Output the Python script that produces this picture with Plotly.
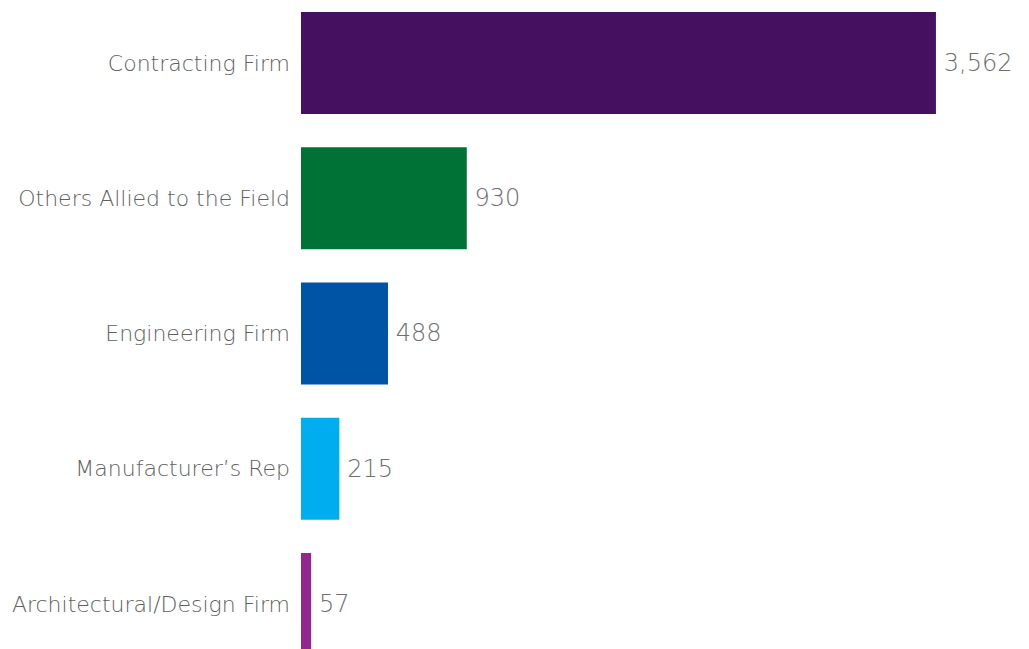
import plotly.graph_objects as go

categories = ["Contracting Firm", "Others Allied to the Field", "Engineering Firm",
              "Manufacturer\u2019s Rep", "Architectural/Design Firm"]
values = [3562, 930, 488, 215, 57]
colors = ["#461060", "#007236", "#0054a6", "#00aeef", "#92278f"]

fig = go.Figure(go.Bar(
    x=values, y=categories, orientation="h",
    marker=dict(color=colors, line=dict(width=0)),
    width=0.754,
    text=[f"\u2009{v:,}" for v in values], textposition="outside",
    textfont=dict(size=24, color="#6e6e6e", family="DejaVu Sans", weight=200),
    cliponaxis=False,
))

fig.update_layout(
    width=1029, height=649,
    margin=dict(l=301, r=0, t=0, b=0),
    plot_bgcolor="white", paper_bgcolor="white",
    showlegend=False,
    xaxis=dict(range=[0, 4084], visible=False, fixedrange=True),
    yaxis=dict(categoryorder="array", categoryarray=categories,
               range=[4.333, -0.466], showgrid=False, zeroline=False,
               showline=False, ticks="", ticklabelstandoff=10,
               tickfont=dict(size=22, color="#606060", family="DejaVu Sans", weight=200)),
)

fig.write_html("out.html")
